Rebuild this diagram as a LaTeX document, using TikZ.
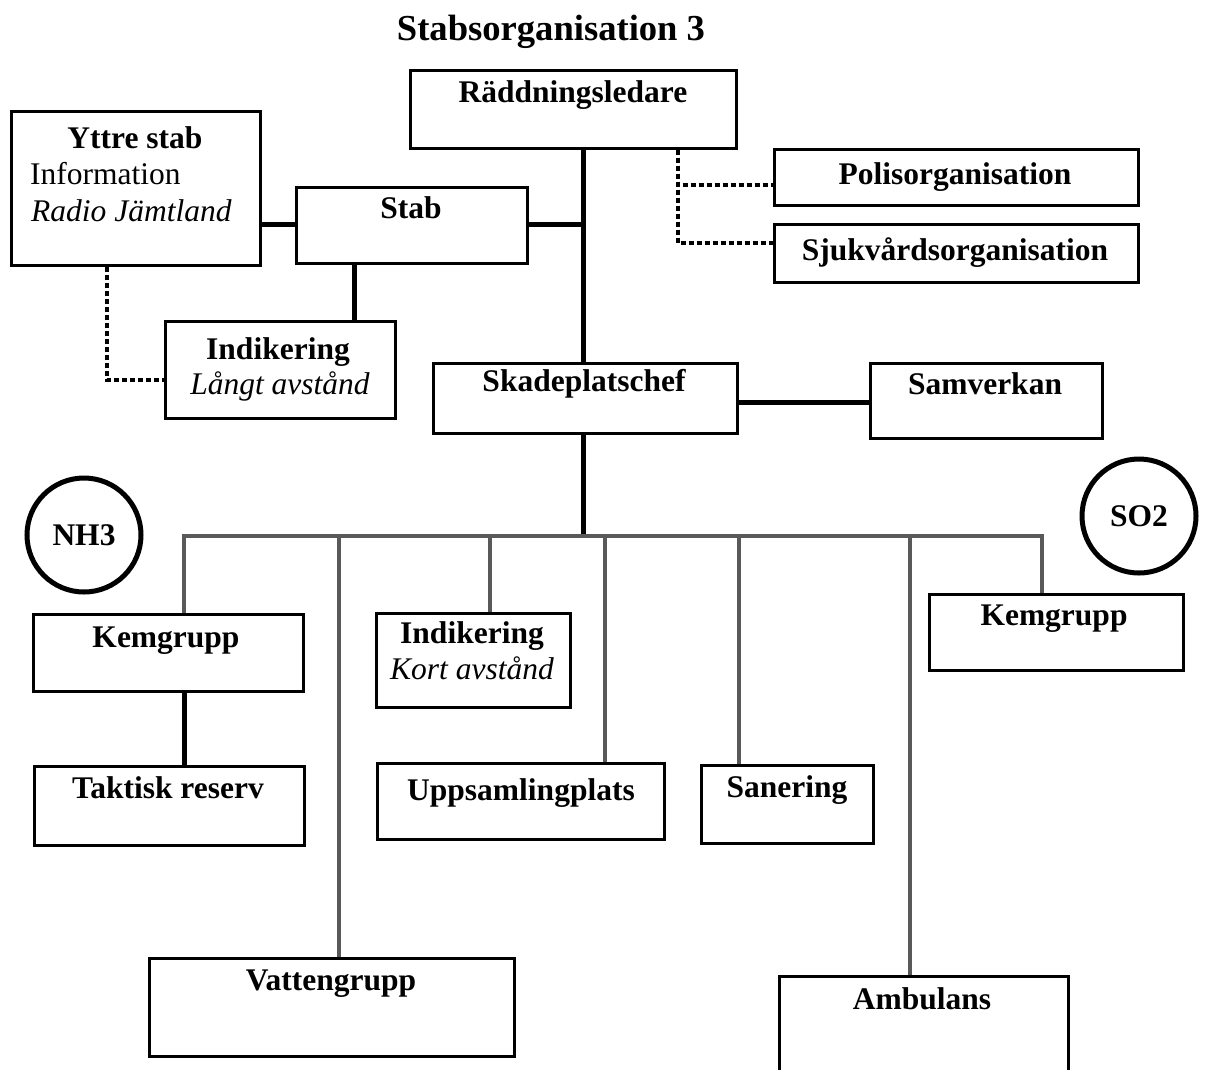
\documentclass[tikz,border=0pt]{standalone}
\usepackage{fontspec}
\setmainfont{Liberation Serif}
\begin{document}
\begin{tikzpicture}[x=1pt,y=-1pt,
  box/.style={draw, line width=2.5pt, anchor=north west, inner sep=0pt},
  lbl/.style={anchor=base, inner sep=0pt, font=\fontsize{31.5}{36}\selectfont\bfseries},
  plain/.style={anchor=base west, inner sep=0pt, font=\fontsize{31.5}{36}\selectfont},
  ital/.style={anchor=base, inner sep=0pt, font=\fontsize{31.5}{36}\selectfont\itshape},
  conn/.style={line width=5pt, black},
  gline/.style={line width=4pt, black!65},
  dotc/.style={line width=4pt, dash pattern=on 5pt off 3pt},
  circ/.style={draw, circle, line width=5pt, inner sep=0pt, minimum size=114pt, font=\fontsize{31.5}{36}\selectfont\bfseries}]
\useasboundingbox (0,0) rectangle (1206,1069);

% title
\node[anchor=base, inner sep=0pt, font=\fontsize{36.6}{40}\selectfont\bfseries] (title) at (551,40) {Stabsorganisation 3};

% boxes
\node[box, minimum width=326pt, minimum height=78pt] (rl) at (409,69) {};
\node[box, minimum width=249pt, minimum height=154pt] (yttre) at (10,110) {};
\node[box, minimum width=231pt, minimum height=76pt] (stab) at (295,186) {};
\node[box, minimum width=364pt, minimum height=56pt] (polis) at (773,148) {};
\node[box, minimum width=364pt, minimum height=58pt] (sjuk) at (773,223) {};
\node[box, minimum width=230pt, minimum height=97pt] (indL) at (164,320) {};
\node[box, minimum width=304pt, minimum height=70pt] (skp) at (432,362) {};
\node[box, minimum width=232pt, minimum height=75pt] (samv) at (869,362) {};
\node[box, minimum width=270pt, minimum height=77pt] (kemL) at (32,613) {};
\node[box, minimum width=194pt, minimum height=94pt] (indK) at (375,612) {};
\node[box, minimum width=270pt, minimum height=79pt] (takt) at (33,765) {};
\node[box, minimum width=287pt, minimum height=76pt] (upps) at (376,762) {};
\node[box, minimum width=172pt, minimum height=78pt] (san) at (700,764) {};
\node[box, minimum width=254pt, minimum height=76pt] (kemR) at (928,593) {};
\node[box, minimum width=365pt, minimum height=98pt] (vatt) at (148,957) {};
\node[box, minimum width=289pt, minimum height=110pt] (amb) at (778,975) {};

% circles
\node[circ] (nh3) at (84,535) {NH3};
\node[circ] (so2) at (1139,516) {SO2};

% texts
\node[lbl] (t-rl) at (573,102) {Räddningsledare};
\node[lbl] (t-yt) at (135,148) {Yttre stab};
\node[plain] (t-inf) at (30,184) {Information};
\node[plain, font=\fontsize{31.5}{36}\selectfont\itshape] (t-rad) at (31,221) {Radio Jämtland};
\node[lbl] (t-stab) at (411,218) {Stab};
\node[lbl] (t-pol) at (955,184) {Polisorganisation};
\node[lbl] (t-sjuk) at (955,260) {Sjukvårdsorganisation};
\node[lbl] (t-indL) at (278,359) {Indikering};
\node[ital] (t-lang) at (280,394) {Långt avstånd};
\node[lbl] (t-skp) at (584,391) {Skadeplatschef};
\node[lbl] (t-samv) at (985,394) {Samverkan};
\node[lbl] (t-kemL) at (166,647) {Kemgrupp};
\node[lbl] (t-indK) at (472,643) {Indikering};
\node[ital] (t-kort) at (472,679) {Kort avstånd};
\node[lbl] (t-takt) at (168,798) {Taktisk reserv};
\node[lbl] (t-upps) at (521,800) {Uppsamlingplats};
\node[lbl] (t-san) at (787,797) {Sanering};
\node[lbl] (t-kemR) at (1054,625) {Kemgrupp};
\node[lbl] (t-vatt) at (331,990) {Vattengrupp};
\node[lbl] (t-amb) at (922,1009) {Ambulans};

% helper coordinates
\coordinate (spine) at (583,0);
\coordinate (sx) at (354,0);
\coordinate (sty) at (0,224);
\coordinate (dx) at (107,0);
\coordinate (dy) at (0,380);
\coordinate (px) at (678,0);
\coordinate (py1) at (0,185);
\coordinate (py2) at (0,243);
\coordinate (sy) at (0,402);
\coordinate (b1) at (184,536);
\coordinate (b2) at (339,536);
\coordinate (b3) at (490,536);
\coordinate (b4) at (605,536);
\coordinate (b5) at (739,536);
\coordinate (b6) at (910,536);
\coordinate (b7) at (1042,536);

% solid black connectors
\draw[conn] (rl.south -| spine) -- (skp.north -| spine);
\draw[conn] (stab.east |- sty) -- (spine |- sty);
\draw[conn] (yttre.east |- sty) -- (stab.west |- sty);
\draw[conn] (stab.south -| sx) -- (indL.north -| sx);
\draw[conn] (skp.east |- sy) -- (samv.west |- sy);
\draw[conn] (skp.south -| spine) -- (spine |- b1);
\draw[conn] (kemL.south -| b1) -- (takt.north -| b1);

% dotted connectors
\draw[dotc] (yttre.south -| dx) |- (indL.west |- dy);
\draw[dotc] (rl.south -| px) |- (polis.west |- py1);
\draw[dotc] (rl.south -| px) |- (sjuk.west |- py2);

% grey bus
\draw[gline] (kemL.north -| b1) -- (b1) -- (b7) -- (kemR.north -| b7);
\draw[gline] (b2) -- (vatt.north -| b2);
\draw[gline] (b3) -- (indK.north -| b3);
\draw[gline] (b4) -- (upps.north -| b4);
\draw[gline] (b5) -- (san.north -| b5);
\draw[gline] (b6) -- (amb.north -| b6);
\end{tikzpicture}
\end{document}
